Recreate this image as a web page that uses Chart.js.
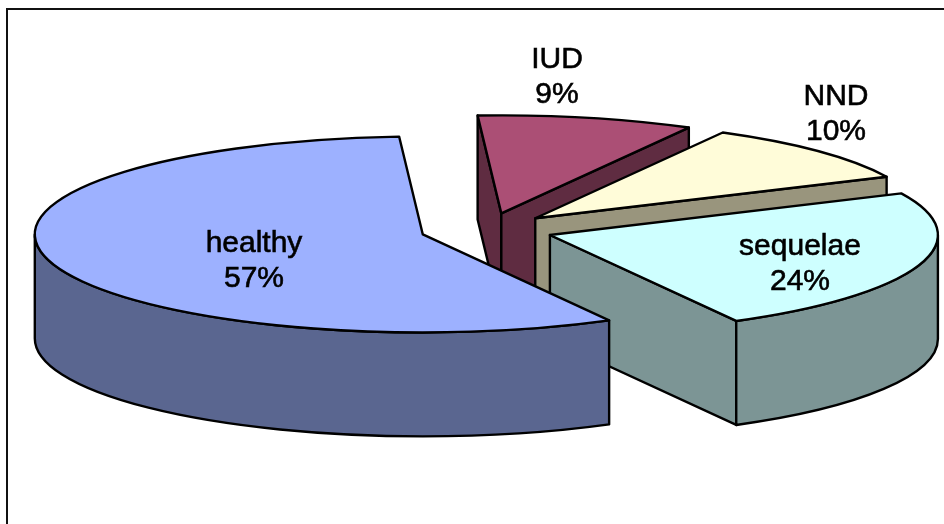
<!DOCTYPE html>
<html>
<head>
<meta charset="utf-8">
<title>Outcome</title>
<script src="https://cdn.jsdelivr.net/npm/chart.js@4"></script>
<style>
  html, body { margin: 0; padding: 0; background: #fff; }
  #wrap { width: 944px; height: 524px; }
</style>
</head>
<body>
<div id="wrap"><canvas id="myChart"></canvas></div>
<script>
const categories = ["healthy", "IUD", "NND", "sequelae"];
const shares = [57, 9, 10, 24];
const topColors = ["#9DB1FF", "#AB4F75", "#FFFCD9", "#CEFFFF"];
const sideColors = ["#5A6690", "#5F2C41", "#99957D", "#7C9595"];

// back slices first, so the front ones cover their walls
const paintOrder = [1, 2, 3, 0];
// centre of each two-line label and its first baseline
const labelX = [254, 557, 836, 800];
const labelY = [252, 68, 105, 255];

const TILT = 0.2526; // vertical squash of the pie disc
const DEPTH = 104; // wall height
const EXPLODE = 66.5; // how far each slice is pulled out

// parts of a slice's rim that face the viewer (sin > 0)
function frontRanges(a, b) {
  const out = [];
  for (let k = -1; k <= 2; k++) {
    const lo = Math.max(a, k * 2 * Math.PI);
    const hi = Math.min(b, k * 2 * Math.PI + Math.PI);
    if (hi > lo) out.push([lo, hi]);
  }
  return out;
}

function paintFace(ctx, color, trace) {
  ctx.beginPath();
  trace();
  ctx.closePath();
  ctx.fillStyle = color;
  ctx.fill();
  ctx.stroke();
}

const pie3d = {
  id: "pie3d",
  beforeDraw(chart) {
    const ctx = chart.ctx;
    // open frame round the plot
    ctx.save();
    ctx.strokeStyle = "#111";
    ctx.lineWidth = 2;
    ctx.beginPath();
    ctx.moveTo(7, 524);
    ctx.lineTo(7, 9);
    ctx.lineTo(944, 9);
    ctx.stroke();
    ctx.restore();
  },
  beforeDatasetsDraw(chart) {
    const ctx = chart.ctx;
    const arcs = chart.getDatasetMeta(0).data;
    paintOrder.forEach((i) => {
      const arc = arcs[i];
      const a = arc.startAngle;
      const b = arc.endAngle;
      const mid = (a + b) / 2;
      const rx = arc.outerRadius;
      const ry = rx * TILT;
      const cx = arc.x + Math.cos(mid) * EXPLODE;
      const cy = arc.y + Math.sin(mid) * EXPLODE * TILT;
      const px = (t) => cx + Math.cos(t) * rx;
      const py = (t) => cy + Math.sin(t) * ry;

      ctx.save();
      ctx.strokeStyle = "#000";
      ctx.lineWidth = 2.4;
      ctx.lineJoin = "round";

      // cut faces, only when they turn towards the viewer
      [[a, -Math.cos(a)], [b, Math.cos(b)]].forEach(([t, facing]) => {
        if (facing <= 0) return;
        paintFace(ctx, sideColors[i], () => {
          ctx.moveTo(cx, cy);
          ctx.lineTo(px(t), py(t));
          ctx.lineTo(px(t), py(t) + DEPTH);
          ctx.lineTo(cx, cy + DEPTH);
        });
      });

      // outer wall
      frontRanges(a, b).forEach(([lo, hi]) => {
        paintFace(ctx, sideColors[i], () => {
          ctx.ellipse(cx, cy, rx, ry, 0, lo, hi);
          ctx.lineTo(px(hi), py(hi) + DEPTH);
          ctx.ellipse(cx, cy + DEPTH, rx, ry, 0, hi, lo, true);
        });
      });

      // top of the slice: the library's arc, squashed onto the disc
      ctx.save();
      ctx.translate(cx, cy);
      ctx.scale(1, TILT);
      ctx.translate(-arc.x, -arc.y);
      arc.draw(ctx);
      ctx.restore();

      // outline is stroked unscaled to keep its width even
      ctx.beginPath();
      ctx.moveTo(cx, cy);
      ctx.ellipse(cx, cy, rx, ry, 0, a, b);
      ctx.closePath();
      ctx.stroke();
      ctx.restore();
    });
    return false;
  },
  // returning false above skips afterDatasetsDraw, so labels go here
  afterDraw(chart) {
    const ctx = chart.ctx;
    const total = shares.reduce((s, v) => s + v, 0);
    ctx.save();
    ctx.fillStyle = "#000";
    ctx.strokeStyle = "#000";
    ctx.lineWidth = 0.6;
    ctx.font = '30px "Liberation Sans", Arial, sans-serif';
    ctx.textAlign = "center";
    ctx.textBaseline = "alphabetic";
    categories.forEach((name, i) => {
      const pct = Math.round((shares[i] / total) * 100) + "%";
      ctx.fillText(name, labelX[i], labelY[i]);
      ctx.strokeText(name, labelX[i], labelY[i]);
      ctx.fillText(pct, labelX[i], labelY[i] + 35);
      ctx.strokeText(pct, labelX[i], labelY[i] + 35);
    });
    ctx.restore();
  },
};

const config = {
  type: "pie",
  data: {
    labels: categories,
    datasets: [
      {
        data: shares,
        backgroundColor: topColors,
        borderWidth: 0,
      },
    ],
  },
  options: {
    responsive: true,
    maintainAspectRatio: false,
    animation: false,
    events: [],
    rotation: 151.3,
    radius: 388,
    layout: { padding: { left: 29.4, bottom: 64.5 } },
    plugins: {
      legend: { display: false },
      tooltip: { enabled: false },
    },
  },
  plugins: [pie3d],
};

var myChart = new Chart(document.getElementById("myChart"), config);
</script>
</body>
</html>
